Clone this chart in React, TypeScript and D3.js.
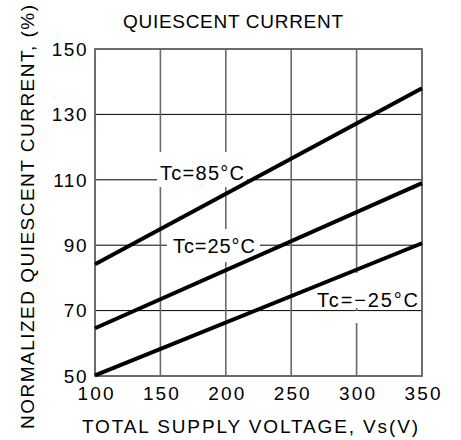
import React from 'react'
import { scaleLinear, line } from 'd3'

// chart values
const voltage = [100, 350]
const tc85 = [84.2, 138]
const tc25 = [64.6, 109]
const tcMinus25 = [50.2, 90.6]
const xTicks = [100, 150, 200, 250, 300, 350]
const yTicks = [50, 70, 90, 110, 130, 150]
const seriesLabels = ['Tc=85°C', 'Tc=25°C', 'Tc=−25°C']

const W = 461, H = 440
const FONT = '"Liberation Sans", Arial, sans-serif'

export default function App() {
  // plot frame
  const left = 95, right = 422, top = 49, bottom = 376

  const x = scaleLinear().domain([100, 350]).range([left, right])
  const y = scaleLinear().domain([50, 150]).range([bottom, top])

  const path = line<number>()
    .x((_, i) => x(voltage[i]))
    .y(d => y(d))

  const series = [tc85, tc25, tcMinus25]

  // label boxes (white background breaks grid lines like the original)
  const labels = [
    { text: seriesLabels[0], cx: 202, base: 179.5, len: 84, box: [157, 152, 90, 35] },
    { text: seriesLabels[1], cx: 214, base: 253, len: 82, box: [167, 229, 93, 33] },
    { text: seriesLabels[2], cx: 367.5, base: 307, len: 101, box: [314, 273, 106, 35] },
  ]

  return (
    <svg width={W} height={H} style={{ position: 'absolute', left: 0, top: 0, background: '#fff' }}
      fontFamily={FONT}>
      <rect x={0} y={0} width={W} height={H} fill="#fff" />

      {/* title */}
      <text x={233} y={27.5} fontSize={19} textAnchor="middle" textLength={220} lengthAdjust="spacing">
        QUIESCENT CURRENT
      </text>

      {/* horizontal grid */}
      {yTicks.map(t => (
        <line key={'h' + t} x1={left} x2={right} y1={y(t)} y2={y(t)} stroke="#000" strokeWidth={1} />
      ))}
      {/* vertical grid */}
      {xTicks.map(t => (
        <line key={'v' + t} x1={x(t)} x2={x(t)} y1={top} y2={bottom} stroke="#6a6a6a" strokeWidth={1.6} />
      ))}
      {/* frame */}
      <rect x={left} y={top} width={right - left} height={bottom - top} fill="none" stroke="#6a6a6a" strokeWidth={1.8} />

      {/* label backgrounds */}
      {labels.map((l, i) => (
        <rect key={'b' + i} x={l.box[0]} y={l.box[1]} width={l.box[2]} height={l.box[3]} fill="#fff" />
      ))}
      <rect x={x(300) - 2} y={311} width={4} height={12} fill="#fff" />

      {/* curves */}
      {series.map((s, i) => (
        <path key={'s' + i} d={path(s) || ''} fill="none" stroke="#000" strokeWidth={4} strokeLinecap="butt" />
      ))}

      {/* series labels */}
      {labels.map((l, i) => (
        <text key={'l' + i} x={l.cx} y={l.base} fontSize={20} textAnchor="middle" textLength={l.len} lengthAdjust="spacing">
          {l.text}
        </text>
      ))}

      {/* y tick labels */}
      {yTicks.map(t => (
        <text key={'yt' + t} x={88} y={y(t) + 6.8} fontSize={19} textAnchor="end" letterSpacing={1.5}>
          {t}
        </text>
      ))}
      {/* x tick labels */}
      {xTicks.map(t => (
        <text key={'xt' + t} x={x(t) + 0.5} y={400} fontSize={19} textAnchor="middle" textLength={36} lengthAdjust="spacing">
          {t}
        </text>
      ))}

      {/* axis titles */}
      <text x={250} y={433} fontSize={19} textAnchor="middle" textLength={336} lengthAdjust="spacing">
        TOTAL SUPPLY VOLTAGE, Vs(V)
      </text>
      <text transform="translate(33.5,217) rotate(-90)" fontSize={19} textAnchor="middle" textLength={424} lengthAdjust="spacing">
        NORMALIZED QUIESCENT CURRENT, (%)
      </text>
    </svg>
  )
}
